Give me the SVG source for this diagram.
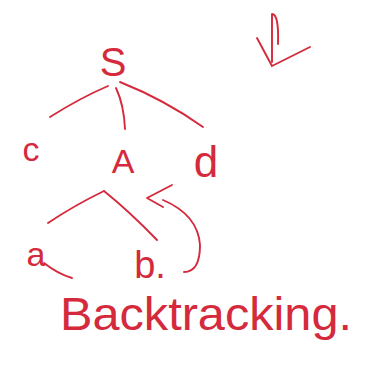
<svg xmlns="http://www.w3.org/2000/svg" width="383" height="391" viewBox="0 0 383 391">
<style>
.t{font-family:"Liberation Sans","DejaVu Sans",sans-serif;fill:#d42a3c;font-weight:normal}
.l{fill:none;stroke:#d42a3c;stroke-width:1.9;stroke-linecap:round;stroke-linejoin:round}
</style>
<rect width="383" height="391" fill="#ffffff"/>
<g id="node-S"><text class="t" x="113" y="76" font-size="40" text-anchor="middle">S</text></g>
<g id="node-c"><text class="t" x="31" y="161" font-size="34" text-anchor="middle">c</text></g>
<g id="node-A"><text class="t" x="123" y="173" font-size="34" text-anchor="middle">A</text></g>
<g id="node-d"><text class="t" x="206" y="177" font-size="44" text-anchor="middle">d</text></g>
<g id="node-a"><text class="t" x="36" y="266" font-size="34" text-anchor="middle">a</text></g>
<g id="node-b"><text class="t" x="150" y="278" font-size="38" text-anchor="middle">b.</text></g>
<g id="label-backtracking"><text class="t" x="60" y="330" font-size="46" textLength="292" lengthAdjust="spacingAndGlyphs">Backtracking.</text></g>
<g id="connectors">
<path class="l" d="M108 86 Q80 98 50 117"/>
<path class="l" d="M116 88 Q124 105 125 129"/>
<path class="l" d="M120 82 Q165 100 203 127"/>
<path class="l" d="M104 191 Q75 205 48 223"/>
<path class="l" d="M104 191 Q130 212 157 240"/>
<path class="l" d="M44 263 Q58 274 72 278"/>
<path class="l" d="M172 185 L147 198 L163 207"/>
<path class="l" d="M163 200 Q198 215 200 245 Q200 272 184 272"/>
<path class="l" d="M272 14 L272 62 M272 14 Q279 14 278 44"/>
<path class="l" d="M257 38 L272 66 L310 47"/>
</g>
</svg>
